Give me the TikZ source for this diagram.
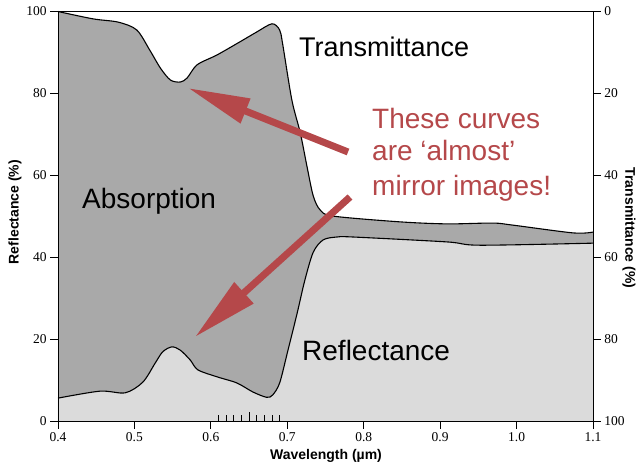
\documentclass[tikz,border=0pt]{standalone}
\usepackage{fontspec}
\setmainfont{Liberation Sans}
\newfontfamily\tickfont{Liberation Serif}
\usetikzlibrary{arrows.meta}
\definecolor{midgray}{RGB}{169,169,169}
\definecolor{lightgray2}{RGB}{219,219,219}
\definecolor{redtxt}{RGB}{181,72,74}
\begin{document}
\begin{tikzpicture}[x=1pt,y=-1pt,
  bigtext/.style={font=\fontsize{28}{33.5}\selectfont, inner sep=0pt, anchor=base west},
  redtext/.style={bigtext, text=redtxt},
  axlabel/.style={font=\bfseries\fontsize{14}{16}\selectfont, inner sep=0pt},
  ticklab/.style={font=\tickfont\fontsize{13.5}{15}\selectfont, inner sep=0pt},
  curve/.style={line width=1.1pt, black},
  tickline/.style={line width=0.8pt, black},
  redarrow/.style={draw=redtxt, line width=7pt}
]
\useasboundingbox (0,0) rectangle (640,466);
\fill[white] (0,0) rectangle (640,466);
\begin{scope}[shift={(-247.72,421.5)}, x=764.3pt, y=4.1pt]
  \fill[midgray] (0.4,0) rectangle (1.1,100);
  \fill[white] plot[smooth,tension=0.5] coordinates {(0.4,100) (0.446,98.2) (0.479,97.4) (0.503,95.5) (0.520,90.6) (0.534,86.2) (0.547,83.3) (0.560,82.8) (0.569,83.8) (0.582,87) (0.608,89.4) (0.638,92.6) (0.660,95) (0.680,97) (0.690,95.5) (0.694,92) (0.706,78.4) (0.717,70.4) (0.726,62) (0.734,55) (0.743,51.6) (0.760,50.1) (0.847,48.7) (0.909,48.2) (0.969,48.4) (0.995,47.9) (1.074,46) (1.1,46.2)} -- (1.1,100) -- cycle;
  \fill[lightgray2] plot[smooth,tension=0.5] coordinates {(0.4,5.7) (0.455,7.4) (0.488,7) (0.511,9.6) (0.527,14.2) (0.537,17) (0.549,18.2) (0.560,17.4) (0.573,15) (0.583,12.6) (0.608,10.9) (0.634,9.4) (0.655,7.2) (0.673,5.9) (0.681,6.5) (0.690,9.4) (0.700,16.7) (0.713,26.5) (0.723,34.5) (0.734,41.3) (0.747,44.3) (0.765,45) (0.786,45) (0.909,43.8) (0.952,43) (1.1,43.5)} -- (1.1,0) -- (0.4,0) -- cycle;
  \draw[curve] plot[smooth,tension=0.5] coordinates {(0.4,100) (0.446,98.2) (0.479,97.4) (0.503,95.5) (0.520,90.6) (0.534,86.2) (0.547,83.3) (0.560,82.8) (0.569,83.8) (0.582,87) (0.608,89.4) (0.638,92.6) (0.660,95) (0.680,97) (0.690,95.5) (0.694,92) (0.706,78.4) (0.717,70.4) (0.726,62) (0.734,55) (0.743,51.6) (0.760,50.1) (0.847,48.7) (0.909,48.2) (0.969,48.4) (0.995,47.9) (1.074,46) (1.1,46.2)};
  \draw[curve] plot[smooth,tension=0.5] coordinates {(0.4,5.7) (0.455,7.4) (0.488,7) (0.511,9.6) (0.527,14.2) (0.537,17) (0.549,18.2) (0.560,17.4) (0.573,15) (0.583,12.6) (0.608,10.9) (0.634,9.4) (0.655,7.2) (0.673,5.9) (0.681,6.5) (0.690,9.4) (0.700,16.7) (0.713,26.5) (0.723,34.5) (0.734,41.3) (0.747,44.3) (0.765,45) (0.786,45) (0.909,43.8) (0.952,43) (1.1,43.5)};
  \draw[tickline] (0.4,0) rectangle (1.1,100);
  \foreach \v [evaluate=\v as \r using int(100-\v)] in {0,20,40,60,80,100} {
    \draw[tickline] (0.4,\v) -- ++(-8pt,0) node[ticklab, anchor=east, xshift=-3pt] {\v};
    \draw[tickline] (1.1,\v) -- ++(8pt,0) node[ticklab, anchor=west, xshift=3pt] {\r};
  }
  \foreach \w in {0.4,0.5,0.6,0.7,0.8,0.9,1.0,1.1} {
    \draw[tickline] (\w,0) -- ++(0,-7pt) node[ticklab, anchor=north, yshift=-4pt] {\w};
  }
  \foreach \w in {0.61,0.62,0.63,0.64,0.66,0.67,0.68,0.69} {
    \draw[tickline] (\w,0) -- ++(0,7pt);
  }
  \draw[tickline] (0.65,0) -- ++(0,10pt);
\end{scope}
\node[bigtext, font=\fontsize{27}{33}\selectfont] (trans) at (299,56) {Transmittance};
\node[bigtext] (absorb) at (82,208) {Absorption};
\node[bigtext] (refl) at (302,360) {Reflectance};
\node[redtext] (l1) at (372,128) {These curves};
\node[redtext] (l2) at (372,160.5) {are ‘almost’};
\node[redtext] (l3) at (372,195) {mirror images!};
\node[axlabel, rotate=90] (ylab) at (15,212) {Reflectance (\%)};
\node[axlabel, rotate=-90] (y2lab) at (629,228) {Transmittance (\%)};
\node[axlabel] (xlab) at (326,456) {Wavelength (µm)};
\coordinate (a1tail) at (348,152);
\coordinate (a1tip) at (188,88);
\coordinate (a2tail) at (350,197);
\coordinate (a2tip) at (195,337);
\draw[redarrow, -{Triangle[length=62pt,width=25pt]}] (a1tail) -- (a1tip);
\draw[redarrow, -{Triangle[length=66pt,width=27pt]}] (a2tail) -- (a2tip);
\end{tikzpicture}
\end{document}
